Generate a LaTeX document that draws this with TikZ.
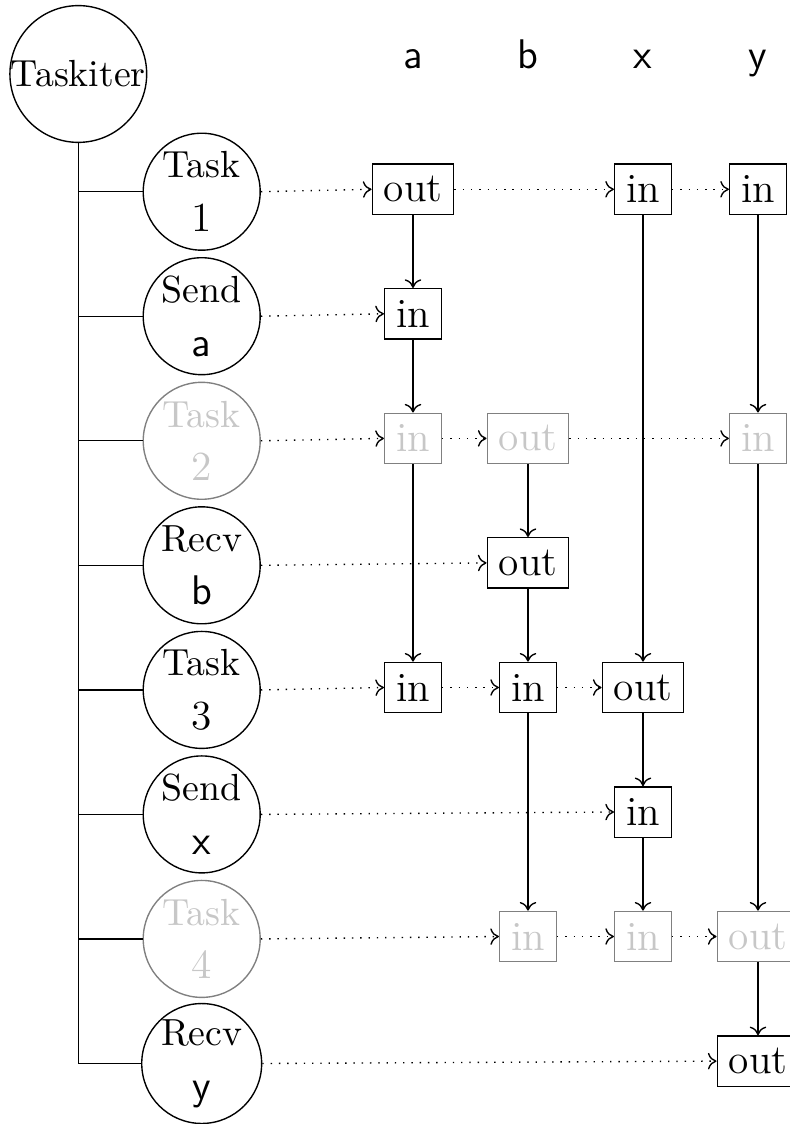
\documentclass[tikz,border=0pt]{standalone}
\usetikzlibrary{arrows.meta}
\begin{document}
\begin{tikzpicture}[x=0.28986pt,y=-0.28986pt,
  >={To[length=2.5pt,width=4.8pt]},
  circtext/.style={font=\fontsize{10.95}{13.6}\selectfont},
  iter/.style={circle,draw,inner sep=0pt,minimum size=38.55pt,circtext},
  task/.style={circle,draw,inner sep=0pt,minimum size=33.9pt,align=center,circtext},
  var/.style={draw,font=\large,inner sep=3.33pt,minimum height=14.6pt},
  ghost/.style={draw=black!50,text=black!22},
  flow/.style={->,dotted},
  dep/.style={->},
  head/.style={font=\large\sffamily,anchor=base}]
  \useasboundingbox (0,0) rectangle (790,1124);

  % column headers
  \node[head] (ha) at (413,68.3) {a};
  \node[head] (hb) at (528,68.3) {b};
  \node[head] (hx) at (643,68.3) {x};
  \node[head] (hy) at (758,68.3) {y};

  % task iterator and its steps
  \node[iter] (ti) at (78.3,74) {Taskiter};
  \node[task] (t1) at (201.7,191.7) {Task\\[2pt]{\large 1}};
  \node[task] (sa) at (201.7,316.2) {Send\\[2pt]{\large\sffamily a}};
  \node[task,ghost] (t2) at (201.7,440.8) {Task\\[2pt]{\large 2}};
  \node[task] (rb) at (201.7,565.3) {Recv\\[2pt]{\large\sffamily b}};
  \node[task] (t3) at (201.7,689.9) {Task\\[2pt]{\large 3}};
  \node[task] (sx) at (201.7,814.4) {Send\\[2pt]{\large\sffamily x}};
  \node[task,ghost] (t4) at (201.7,938.9) {Task\\[2pt]{\large 4}};
  \node[task] (ry) at (201.7,1063.5) {Recv\\[2pt]{\large\sffamily y}};

  \foreach \t in {t1,sa,t2,rb,t3,sx,t4,ry}
    \draw (ti.south) |- (\t.west);

  % accesses per step
  \node[var] (a1) at (413,189.3) {out};
  \node[var] (x1) at (643,189.3) {in};
  \node[var] (y1) at (758,189.3) {in};

  \node[var] (a2) at (413,313.8) {in};

  \node[var,ghost] (a3) at (413,438.4) {in};
  \node[var,ghost] (b3) at (528,438.4) {out};
  \node[var,ghost] (y3) at (758,438.4) {in};

  \node[var] (b4) at (528,562.9) {out};

  \node[var] (a5) at (413,687.5) {in};
  \node[var] (b5) at (528,687.5) {in};
  \node[var] (x5) at (643,687.5) {out};

  \node[var] (x6) at (643,812.0) {in};

  \node[var,ghost] (b7) at (528,936.5) {in};
  \node[var,ghost] (x7) at (643,936.5) {in};
  \node[var,ghost] (y7) at (758,936.5) {out};

  \node[var] (y8) at (758,1061.1) {out};

  % step to access chains
  \draw[flow] (t1.east) -- (a1.west);
  \draw[flow] (a1.east) -- (x1.west);
  \draw[flow] (x1.east) -- (y1.west);
  \draw[flow] (sa.east) -- (a2.west);
  \draw[flow] (t2.east) -- (a3.west);
  \draw[flow] (a3.east) -- (b3.west);
  \draw[flow] (b3.east) -- (y3.west);
  \draw[flow] (rb.east) -- (b4.west);
  \draw[flow] (t3.east) -- (a5.west);
  \draw[flow] (a5.east) -- (b5.west);
  \draw[flow] (b5.east) -- (x5.west);
  \draw[flow] (sx.east) -- (x6.west);
  \draw[flow] (t4.east) -- (b7.west);
  \draw[flow] (b7.east) -- (x7.west);
  \draw[flow] (x7.east) -- (y7.west);
  \draw[flow] (ry.east) -- (y8.west);

  % dependencies along each variable
  \draw[dep] (a1) -- (a2);
  \draw[dep] (a2) -- (a3);
  \draw[dep] (a3) -- (a5);
  \draw[dep] (b3) -- (b4);
  \draw[dep] (b4) -- (b5);
  \draw[dep] (b5) -- (b7);
  \draw[dep] (x1) -- (x5);
  \draw[dep] (x5) -- (x6);
  \draw[dep] (x6) -- (x7);
  \draw[dep] (y1) -- (y3);
  \draw[dep] (y3) -- (y7);
  \draw[dep] (y7) -- (y8);
\end{tikzpicture}
\end{document}
